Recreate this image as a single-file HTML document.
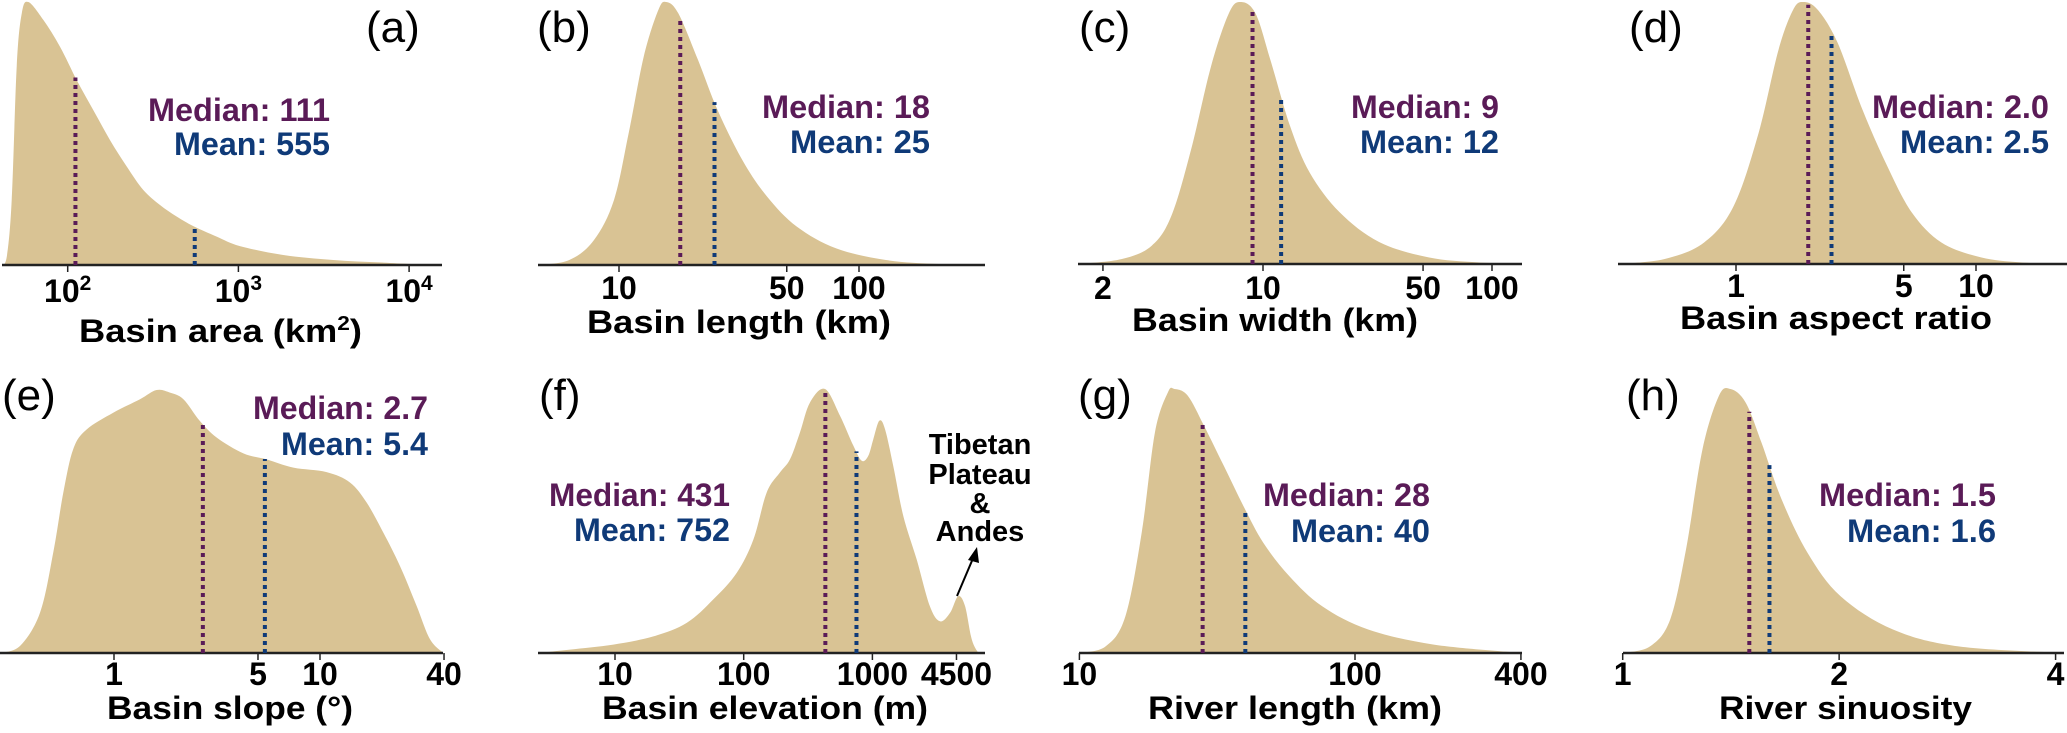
<!DOCTYPE html>
<html><head><meta charset="utf-8"><title>Basin distributions</title>
<style>
html,body{margin:0;padding:0;background:#fff;}
svg{display:block;font-family:"Liberation Sans",Arial,sans-serif;font-weight:bold;}
</style></head>
<body>
<svg id="chart" width="2067" height="733" viewBox="0 0 2067 733" xmlns="http://www.w3.org/2000/svg"></svg>
<script>
// ---- data (log10 of x value, normalised density) ----
const aLogX = [1.613,1.643,1.672,1.701,1.731,1.769,1.857,1.955,2.053,2.15,2.248,2.346,2.443,2.541,2.639,2.736,2.873,3.009,3.263,3.556,3.849,4.142];
const aDens = [0,0.032,0.247,0.754,0.957,1,0.932,0.83,0.703,0.589,0.475,0.374,0.285,0.228,0.184,0.148,0.108,0.072,0.038,0.019,0.009,0];
const bLogX = [0.662,0.793,0.896,0.979,1.04,1.103,1.164,1.197,1.247,1.329,1.411,1.514,1.617,1.741,1.905,2.112,2.318,2.523];
const bDens = [0,0.019,0.095,0.247,0.5,0.792,0.97,1,0.957,0.78,0.589,0.399,0.26,0.146,0.063,0.019,0.004,0];
const cLogX = [0.194,0.384,0.514,0.6,0.686,0.773,0.851,0.902,0.967,1.032,1.118,1.204,1.334,1.507,1.723,1.938,2.133];
const cDens = [0,0.019,0.07,0.184,0.437,0.754,0.957,1,0.957,0.78,0.527,0.349,0.198,0.084,0.025,0.006,0];
const dLogX = [-0.483,-0.297,-0.133,-0.009,0.094,0.177,0.238,0.28,0.341,0.424,0.527,0.63,0.733,0.856,1.021,1.185,1.35];
const dDens = [0,0.019,0.082,0.222,0.5,0.817,0.97,1,0.97,0.843,0.589,0.374,0.196,0.082,0.025,0.006,0];
const eLogX = [-0.553,-0.456,-0.359,-0.295,-0.246,-0.198,-0.133,-0.003,0.126,0.207,0.272,0.337,0.417,0.499,0.628,0.741,0.871,1.032,1.146,1.227,1.308,1.388,1.469,1.534,1.599];
const eDens = [0,0.027,0.153,0.381,0.61,0.775,0.85,0.914,0.965,1,0.99,0.965,0.882,0.819,0.759,0.736,0.705,0.688,0.648,0.571,0.457,0.331,0.179,0.052,0];
const fLogX = [0.404,0.65,0.987,1.298,1.557,1.764,1.946,2.075,2.179,2.282,2.36,2.437,2.515,2.632,2.748,2.852,2.917,2.968,3.007,3.054,3.098,3.162,3.24,3.344,3.447,3.525,3.603,3.667,3.72,3.772,3.823];
const fDens = [0,0.013,0.032,0.063,0.114,0.203,0.304,0.43,0.608,0.684,0.734,0.835,0.949,1,0.899,0.785,0.728,0.747,0.81,0.88,0.848,0.709,0.519,0.354,0.177,0.12,0.152,0.215,0.177,0.051,0];
const gLogX = [1,1.095,1.167,1.226,1.274,1.321,1.345,1.393,1.452,1.524,1.595,1.667,1.762,1.881,2.048,2.286,2.607];
const gDens = [0,0.025,0.139,0.456,0.835,0.987,1,0.975,0.861,0.709,0.557,0.418,0.291,0.177,0.089,0.032,0];
const hLogX = [0,0.038,0.066,0.088,0.111,0.134,0.15,0.171,0.193,0.221,0.257,0.303,0.376,0.467,0.613];
const hDens = [0,0.025,0.127,0.392,0.772,0.975,1,0.949,0.797,0.582,0.38,0.215,0.089,0.025,0];
const medians = [111,18,9,2.0,2.7,431,28,1.5];
const means = [555,25,12,2.5,5.4,752,40,1.6];
const medianLabels = ["Median: 111","Median: 18","Median: 9","Median: 2.0","Median: 2.7","Median: 431","Median: 28","Median: 1.5"];
const meanLabels = ["Mean: 555","Mean: 25","Mean: 12","Mean: 2.5","Mean: 5.4","Mean: 752","Mean: 40","Mean: 1.6"];
const aTicks = [100,1000,10000];
const bTicks = [10,50,100];
const cTicks = [2,10,50,100];
const dTicks = [1,5,10];
const eTicks = [1,5,10,40];
const fTicks = [10,100,1000,4500];
const gTicks = [10,100,400];
const hTicks = [1,2,4];
const tickLabelsA = ["2","3","4"]; // exponents for 10^n
const panelLetters = ["(a)","(b)","(c)","(d)","(e)","(f)","(g)","(h)"];
const xTitles = ["Basin area (km","Basin length (km)","Basin width (km)","Basin aspect ratio","Basin slope (°)","Basin elevation (m)","River length (km)","River sinuosity"];

// ---- layout ----
const L = [
 {x0:2,x1:442,refPx:67.7,refLog:2,ppd:170.7,base:265,top:2,lx:366,ly:42,tx:330,my:121,ny:155,mw:182,nw:156,xt:[79,342,283],tb:302},
 {x0:538,x1:985,refPx:619,refLog:1,ppd:240,base:265,top:2,lx:537,ly:42,tx:930,my:118,ny:153,mw:168,nw:140,xt:[587,333,304],tb:299},
 {x0:1078,x1:1522,refPx:1263,refLog:1,ppd:229,base:264,top:2,lx:1079,ly:42,tx:1499,my:118,ny:153,mw:148,nw:139,xt:[1132,331,286],tb:299},
 {x0:1618,x1:2067,refPx:1736,refLog:0,ppd:240,base:264,top:2,lx:1629,ly:42,tx:2049,my:118,ny:153,mw:177,nw:149,xt:[1680,329,312],tb:297},
 {x0:0,x1:443,refPx:114,refLog:0,ppd:206,base:653,top:390,lx:2,ly:410,tx:428,my:419,ny:455,mw:175,nw:147,xt:[107,719,246],tb:685},
 {x0:538,x1:985,refPx:615,refLog:1,ppd:128.7,base:653,top:389,lx:539,ly:410,tx:730,my:506,ny:541,mw:181,nw:156,xt:[602,719,326],tb:685},
 {x0:1079,x1:1522,refPx:1079.4,refLog:1,ppd:275.6,base:653,top:389,lx:1078,ly:410,tx:1430,my:506,ny:542,mw:167,nw:139,xt:[1148,719,294],tb:685},
 {x0:1623,x1:2064,refPx:1622.7,refLog:0,ppd:719,base:653,top:389,lx:1626,ly:410,tx:1996,my:506,ny:542,mw:177,nw:149,xt:[1719,719,253],tb:685}
];
const LOGX=[aLogX,bLogX,cLogX,dLogX,eLogX,fLogX,gLogX,hLogX];
const DENS=[aDens,bDens,cDens,dDens,eDens,fDens,gDens,hDens];
const TICKS=[aTicks,bTicks,cTicks,dTicks,eTicks,fTicks,gTicks,hTicks];
const NS="http://www.w3.org/2000/svg";
const svg=document.getElementById('chart');
function mk(tag,attrs,parent){const e=document.createElementNS(NS,tag);for(const k in attrs)e.setAttribute(k,attrs[k]);(parent||svg).appendChild(e);return e;}
function xs(i,lg){const l=L[i];return l.refPx+(lg-l.refLog)*l.ppd;}
function ys(i,d){const l=L[i];return l.base-d*(l.base-l.top);}
function densAt(i,lg){const X=LOGX[i],D=DENS[i];for(let k=0;k<X.length-1;k++){if(lg>=X[k]&&lg<=X[k+1]){const t=(lg-X[k])/(X[k+1]-X[k]);return D[k]+t*(D[k+1]-D[k]);}}return 0;}
function smoothPath(pts){let d="M"+pts[0][0]+","+pts[0][1];for(let k=0;k<pts.length-1;k++){const p0=pts[k-1]||pts[k],p1=pts[k],p2=pts[k+1],p3=pts[k+2]||p2;const c1=[p1[0]+(p2[0]-p0[0])/6,p1[1]+(p2[1]-p0[1])/6],c2=[p2[0]-(p3[0]-p1[0])/6,p2[1]-(p3[1]-p1[1])/6];d+=" C"+c1[0].toFixed(1)+","+c1[1].toFixed(1)+" "+c2[0].toFixed(1)+","+c2[1].toFixed(1)+" "+p2[0].toFixed(1)+","+p2[1].toFixed(1);}return d;}

for(let i=0;i<8;i++){
  const l=L[i];
  const g=mk('g',{});
  
  
  const pts=LOGX[i].map((lg,k)=>[xs(i,lg),ys(i,DENS[i][k])]);
  let d=smoothPath(pts)+" L"+pts[pts.length-1][0]+","+l.base+" L"+pts[0][0]+","+l.base+" Z";
  const area=mk('path',{d:d,fill:'#d9c394',stroke:'none'},g);
  
  
  const ax=mk('line',{x1:l.x0,x2:l.x1,y1:l.base,y2:l.base,stroke:'#222','stroke-width':2.5},g);
  
  
  TICKS[i].forEach((t,k)=>{
    const x=xs(i,Math.log10(t));
    const tk=mk('line',{x1:x,x2:x,y1:l.base,y2:l.base+7,stroke:'#222','stroke-width':1.5},g);
    
    
    const tl=mk('text',{x:x,y:l.tb,'text-anchor':'middle','font-size':32,fill:'#000'},g);
    
    
    if(i===0){tl.textContent='10';const sp=mk('tspan',{dy:-12,'font-size':21},tl);sp.textContent=tickLabelsA[k];}
    else tl.textContent=String(t);
  });
  const mlg=Math.log10(medians[i]), nlg=Math.log10(means[i]);
  const ml=mk('line',{x1:xs(i,mlg),x2:xs(i,mlg),y1:l.base,y2:ys(i,densAt(i,mlg)),stroke:'#5a1b57','stroke-width':4,'stroke-dasharray':'4,4'},g);
  
  
  const nl=mk('line',{x1:xs(i,nlg),x2:xs(i,nlg),y1:l.base,y2:ys(i,densAt(i,nlg)),stroke:'#0f3a78','stroke-width':4,'stroke-dasharray':'4,4'},g);
  
  
  const mt=mk('text',{x:l.tx,y:l.my,'text-anchor':'end','font-size':32,fill:'#5a1b57',textLength:l.mw,lengthAdjust:'spacingAndGlyphs'},g);
  
  
  mt.textContent=medianLabels[i];
  const nt=mk('text',{x:l.tx,y:l.ny,'text-anchor':'end','font-size':32,fill:'#0f3a78',textLength:l.nw,lengthAdjust:'spacingAndGlyphs'},g);
  
  
  nt.textContent=meanLabels[i];
  const pl=mk('text',{x:l.lx,y:l.ly,'font-size':44,'font-weight':'normal',fill:'#000'},g);
  
  
  pl.textContent=panelLetters[i];
  const xt=mk('text',{x:l.xt[0],y:l.xt[1],'font-size':32,fill:'#000',textLength:l.xt[2],lengthAdjust:'spacingAndGlyphs'},g);
  
  
  xt.textContent=xTitles[i];
  if(i===0){const sp=mk('tspan',{dy:-12,'font-size':20},xt);sp.textContent='2';const sp2=mk('tspan',{dy:12},xt);sp2.textContent=')';}
}
const ann=mk('g',{});


["Tibetan","Plateau","&","Andes"].forEach((s,k)=>{
  const t=mk('text',{x:980,y:[454,484,513,541][k],'text-anchor':'middle','font-size':29,fill:'#000'},ann);
  t.textContent=s;
});
mk('line',{x1:957,y1:596,x2:974,y2:556,stroke:'#000','stroke-width':2},ann);
mk('polygon',{points:'977,547 968,560 979,563',fill:'#000'},ann);
</script>
</body></html>
